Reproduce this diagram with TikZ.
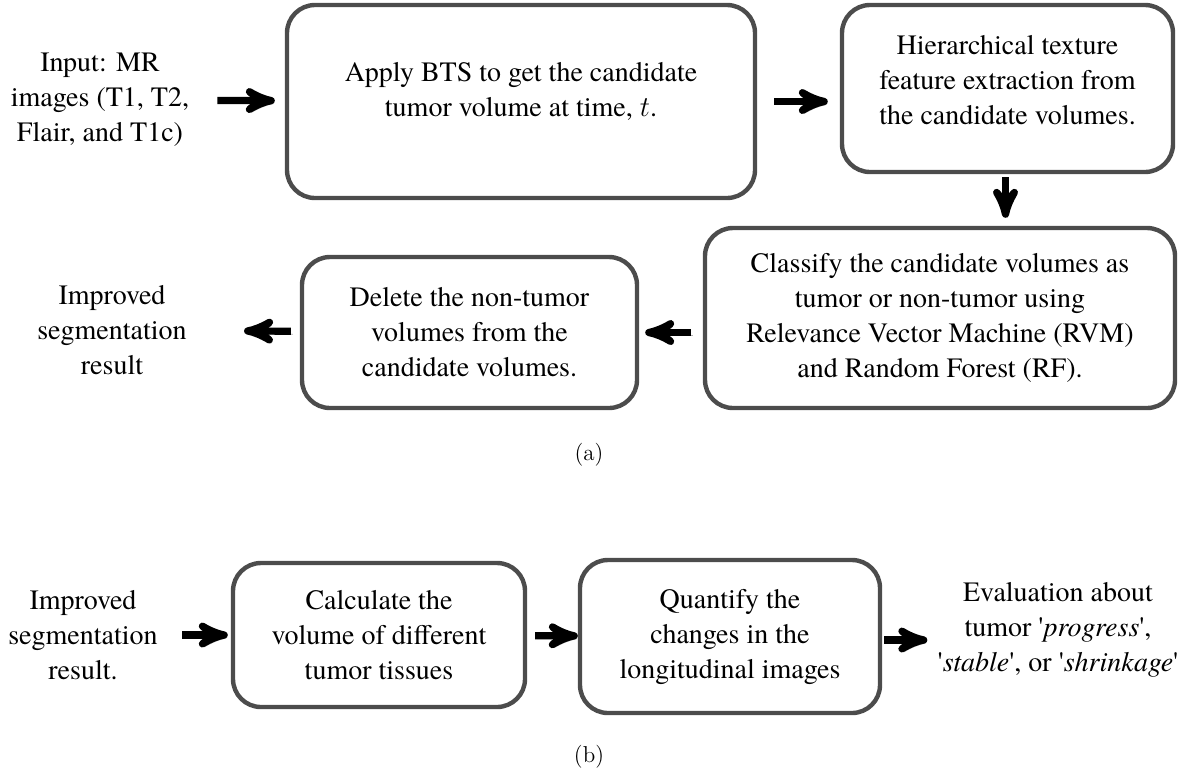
\documentclass[tikz,border=0pt]{standalone}
\usepackage{fontspec}
\newfontfamily\tnr{texgyretermes}[Extension=.otf, UprightFont=*-regular, ItalicFont=*-italic,
  BoldFont=*-bold, BoldItalicFont=*-bolditalic]
\usetikzlibrary{arrows}

\tikzset{
  procbox/.style={draw=black!70, line width=2.2pt, rounded corners=14pt, inner sep=0pt,
    align=center, font=\tnr\fontsize{14}{17.5}\selectfont},
  plain/.style={inner sep=0pt, align=center, font=\tnr\fontsize{14}{17.5}\selectfont},
  arr/.style={->, >=stealth', line width=3.6pt,
    preaction={draw=black!30, transform canvas={xshift=1pt,yshift=-1.5pt}}},
  capt/.style={inner sep=0pt, font=\fontsize{11.5}{14}\selectfont}
}

\begin{document}
\begin{tikzpicture}[x=0.5pt, y=-0.5pt]
        \useasboundingbox (0,0) rectangle (1188,773);

        % (a)
        \node[plain] (input) at (100,100) {Input: MR\\images (T1, T2,\\Flair, and T1c)};
        \node[procbox, minimum width=234pt, minimum height=96.5pt] (apply) at (521,101.5) {};
        \node[plain] (apply-t) at (521,91) {Apply BTS to get the candidate\\tumor volume at time, $t$.};
        \node[procbox, minimum width=165.5pt, minimum height=83.5pt] (hier) at (1007.5,88.5) {};
        \node[plain] (hier-t) at (1007.5,80) {Hierarchical texture\\feature extraction from\\the candidate volumes.};
        \node[procbox, minimum width=235pt, minimum height=90pt] (classify) at (940,318)
          {Classify the candidate volumes as\\tumor or non-tumor using\\Relevance Vector Machine (RVM)\\and Random Forest (RF).};
        \node[procbox, minimum width=167.5pt, minimum height=75.5pt] (delete) at (469.5,332.5)
          {Delete the non-tumor\\volumes from the\\candidate volumes.};
        \node[plain] (improved) at (112,330) {Improved\\segmentation\\result};
        \node[capt] (cap-a) at (589,455) {(a)};

        \draw[arr, shorten <=14pt, shorten >=5pt] (input) -- (apply);
        \draw[arr, shorten <=8.5pt, shorten >=6pt] (apply.east) -- (hier.west |- apply.east);
        \draw[arr, shorten <=1.5pt, shorten >=4pt] ([xshift=-1pt]hier.south) -- ([xshift=-1pt]hier.south |- classify.north);
        \draw[arr, shorten <=6pt, shorten >=3pt] (classify.west |- delete.east) -- (delete.east);
        \draw[arr, shorten <=4.5pt, shorten >=28.5pt] (delete) -- (improved);

        % (b)
        \node[plain] (improved2) at (83,635) {Improved\\segmentation\\result.};
        \node[procbox, minimum width=146pt, minimum height=72pt] (calc) at (379,635)
          {Calculate the\\volume of different\\tumor tissues};
        \node[procbox, minimum width=150pt, minimum height=76.5pt] (quant) at (730,636.5)
          {Quantify the\\changes in the\\longitudinal images};
        \node[plain] (eval) at (1058,630) {Evaluation about\\tumor \textquotesingle\textit{progress}\textquotesingle,\\
          \textquotesingle\textit{stable}\textquotesingle, or \textquotesingle\textit{shrinkage}\textquotesingle};
        \node[capt] (cap-b) at (589,757) {(b)};

        \draw[arr, shorten <=12pt, shorten >=1.5pt] (improved2) -- (calc);
        \draw[arr, shorten <=4pt] (calc) -- (quant);
        \draw[arr, shorten <=1pt, shorten >=5pt] ([yshift=-1.75pt]quant.east) -- ([yshift=-1.75pt]quant.east -| eval.west);
      \end{tikzpicture}
\end{document}
